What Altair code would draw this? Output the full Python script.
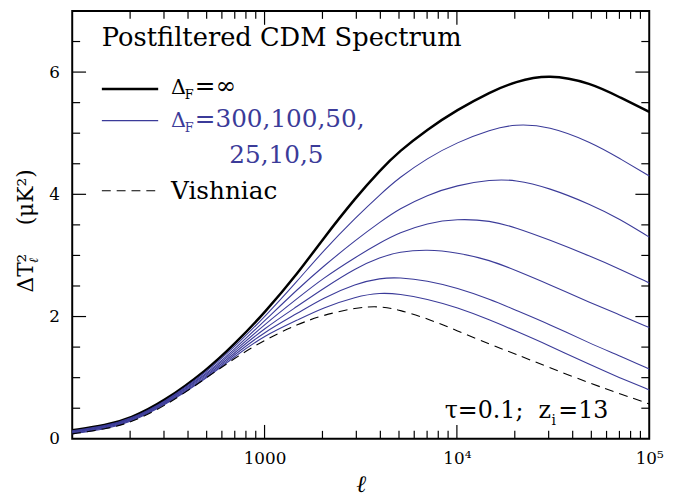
import altair as alt
import pandas as pd

# ---------------- data ----------------
ELL = [100, 150, 200, 300, 500, 700, 1000, 1500, 2000, 3000, 4000, 5000,
       7000, 10000, 15000, 20000, 30000, 50000, 70000, 100000]

DF_INF = [0.14, 0.22, 0.33, 0.61, 1.12, 1.55, 2.06, 2.72, 3.26, 3.96, 4.40, 4.70,
          5.06, 5.38, 5.68, 5.84, 5.97, 5.82, 5.59, 5.35]
DF_300 = [0.13, 0.21, 0.32, 0.59, 1.09, 1.51, 1.99, 2.60, 3.06, 3.63, 4.00, 4.27,
          4.59, 4.85, 5.06, 5.15, 5.12, 4.85, 4.59, 4.30]
DF_100 = [0.12, 0.20, 0.31, 0.58, 1.06, 1.47, 1.93, 2.46, 2.81, 3.26, 3.55, 3.76,
          3.99, 4.15, 4.24, 4.24, 4.11, 3.83, 3.60, 3.30]
DF_50 = [0.11, 0.19, 0.30, 0.57, 1.04, 1.44, 1.87, 2.31, 2.62, 2.98, 3.21, 3.37,
         3.53, 3.60, 3.57, 3.46, 3.26, 2.98, 2.78, 2.55]
DF_25 = [0.10, 0.18, 0.29, 0.56, 1.02, 1.41, 1.81, 2.18, 2.45, 2.80, 2.97, 3.06,
         3.10, 3.05, 2.92, 2.76, 2.53, 2.22, 2.03, 1.82]
DF_10 = [0.09, 0.17, 0.28, 0.55, 1.00, 1.38, 1.75, 2.06, 2.30, 2.54, 2.63, 2.64,
         2.59, 2.47, 2.28, 2.11, 1.88, 1.55, 1.36, 1.14]
DF_5 = [0.08, 0.16, 0.27, 0.54, 0.99, 1.35, 1.69, 1.95, 2.14, 2.33, 2.39, 2.37,
        2.29, 2.15, 1.94, 1.77, 1.53, 1.20, 1.00, 0.80]
VISHNIAC = [0.08, 0.16, 0.26, 0.52, 1.00, 1.32, 1.62, 1.88, 2.02, 2.15, 2.17, 2.11,
            1.97, 1.77, 1.54, 1.39, 1.17, 0.90, 0.74, 0.57]

FILTER_NAMES = ["300", "100", "50", "25", "10", "5"]
FILTER_SERIES = [DF_300, DF_100, DF_50, DF_25, DF_10, DF_5]

X_LABEL_VALUES = [1000, 10000, 100000]
X_LABEL_TEXTS = ["1000", "10⁴", "10⁵"]
Y_LABEL_VALUES = [0, 2, 4, 6]

X_MAJOR = [1000, 10000]
X_MINOR = [200, 300, 400, 500, 600, 700, 800, 900,
           2000, 3000, 4000, 5000, 6000, 7000, 8000, 9000,
           20000, 30000, 40000, 50000, 60000, 70000, 80000, 90000]
Y_MAJOR = [2, 4, 6]
Y_MINOR = [0.5, 1, 1.5, 2.5, 3, 3.5, 4.5, 5, 5.5, 6.5]

TITLE = "Postfiltered CDM Spectrum"
LEG_INF = "=∞"
LEG_FILT_1 = "=300,100,50,"
LEG_FILT_2 = "25,10,5"
LEG_VISH = "Vishniac"

# ---------------- styling ----------------
W, H = 584, 433
BLUE = "#3b3b99"
FONT = "DejaVu Serif"

xs = alt.Scale(type="log", domain=[100, 100000], nice=False)
ys = alt.Scale(domain=[0, 7], nice=False, zero=False)

black_df = pd.DataFrame({"ell": ELL, "val": DF_INF})
vish_df = pd.DataFrame({"ell": ELL, "val": VISHNIAC})
blue_rows = []
for name, vals in zip(FILTER_NAMES, FILTER_SERIES):
    for l, v in zip(ELL, vals):
        blue_rows.append({"ell": l, "val": v, "series": name})
blue_df = pd.DataFrame(blue_rows)

label_expr = " : ".join(
    f"datum.value == {v} ? '{t}'" for v, t in zip(X_LABEL_VALUES[:-1], X_LABEL_TEXTS[:-1])
) + f" : '{X_LABEL_TEXTS[-1]}'"

x_axis = alt.Axis(values=X_LABEL_VALUES, labelExpr=label_expr, ticks=False, domain=False,
                  grid=False, labelFont=FONT, labelFontSize=17, labelColor="black",
                  labelPadding=12, labelFlush=False, title="ℓ", titleFont=FONT,
                  titleFontSize=24, titleFontStyle="italic", titleFontWeight="normal",
                  titleColor="black", titlePadding=6)
y_axis = alt.Axis(values=Y_LABEL_VALUES, format="d", ticks=False, domain=False, grid=False,
                  labelFont=FONT, labelFontSize=17, labelColor="black", labelPadding=13,
                  title=None)

INTERP = "basis"
black = alt.Chart(black_df).mark_line(color="black", strokeWidth=2.5, interpolate=INTERP).encode(
    x=alt.X("ell:Q", scale=xs, axis=x_axis),
    y=alt.Y("val:Q", scale=ys, axis=y_axis),
)
blue = alt.Chart(blue_df).mark_line(color=BLUE, strokeWidth=1.1, interpolate=INTERP).encode(
    x=alt.X("ell:Q", scale=xs),
    y=alt.Y("val:Q", scale=ys),
    detail="series:N",
)
vish = alt.Chart(vish_df).mark_line(color="black", strokeWidth=1.1, strokeDash=[9, 6],
                                    interpolate=INTERP).encode(
    x=alt.X("ell:Q", scale=xs),
    y=alt.Y("val:Q", scale=ys),
)

layers = [black, blue, vish]

# inward ticks on all four sides
def xticks(vals, length):
    d = pd.DataFrame({"ell": vals})
    bot = alt.Chart(d).mark_rule(color="black", strokeWidth=1.2).encode(
        x=alt.X("ell:Q", scale=xs), y=alt.value(H), y2=alt.value(H - length))
    top = alt.Chart(d).mark_rule(color="black", strokeWidth=1.2).encode(
        x=alt.X("ell:Q", scale=xs), y=alt.value(0), y2=alt.value(length))
    return [bot, top]

def yticks(vals, length):
    d = pd.DataFrame({"val": vals})
    left = alt.Chart(d).mark_rule(color="black", strokeWidth=1.2).encode(
        y=alt.Y("val:Q", scale=ys), x=alt.value(0), x2=alt.value(length))
    right = alt.Chart(d).mark_rule(color="black", strokeWidth=1.2).encode(
        y=alt.Y("val:Q", scale=ys), x=alt.value(W), x2=alt.value(W - length))
    return [left, right]

layers += xticks(X_MAJOR, 14) + xticks(X_MINOR, 8) + yticks(Y_MAJOR, 14) + yticks(Y_MINOR, 8)

def txt(s, x, y, size=25, color="black", style="normal", angle=0):
    kw = dict(font=FONT, fontSize=size, color=color, align="left", baseline="alphabetic",
              fontStyle=style)
    if angle:
        kw["angle"] = angle
    return alt.Chart(pd.DataFrame({"a": [0]})).mark_text(**kw).encode(
        x=alt.value(x), y=alt.value(y), text=alt.value(s))

def rule(x1, x2, y, color="black", width=2.5, dash=None):
    kw = dict(color=color, strokeWidth=width)
    if dash:
        kw["strokeDash"] = dash
    return alt.Chart(pd.DataFrame({"a": [0]})).mark_rule(**kw).encode(
        x=alt.value(x1), x2=alt.value(x2), y=alt.value(y))

# legend / annotations
layers += [
    txt(TITLE, 30, 35, 26),
    rule(30, 87, 79, "black", 2.5),
    txt("Δ", 100, 84, 21),
    txt("F", 114, 89, 13),
    txt(LEG_INF, 124, 84, 25),
    rule(30, 87, 111, BLUE, 1.1),
    txt("Δ", 100, 117, 21, BLUE),
    txt("F", 114, 122, 13, BLUE),
    txt(LEG_FILT_1, 124, 117, 25, BLUE),
    txt(LEG_FILT_2, 159, 154, 25, BLUE),
    rule(30, 87, 182, "black", 1.1, [9, 6]),
    txt(LEG_VISH, 100, 190, 25),
    txt("τ=0.1;", 377, 412, 24),
    txt("z", 472, 412, 24),
    txt("i", 485, 419, 14),
    txt("=13", 492, 412, 24),
    # y-axis title, rotated
    txt("ΔT²", -40, 285, 22, angle=270),
    txt("ℓ", -35, 255, 13, style="italic", angle=270),
    txt("(μK²)", -40, 217, 22, angle=270),
]

chart = alt.layer(*layers).properties(
    width=W, height=H,
    autosize=alt.AutoSizeParams(type="none"),
    padding={"left": 65, "top": 0, "right": 19, "bottom": 62},
).configure_view(stroke="black", strokeWidth=2)

chart.save("out.html", embed_options={"renderer": "svg", "actions": False})
